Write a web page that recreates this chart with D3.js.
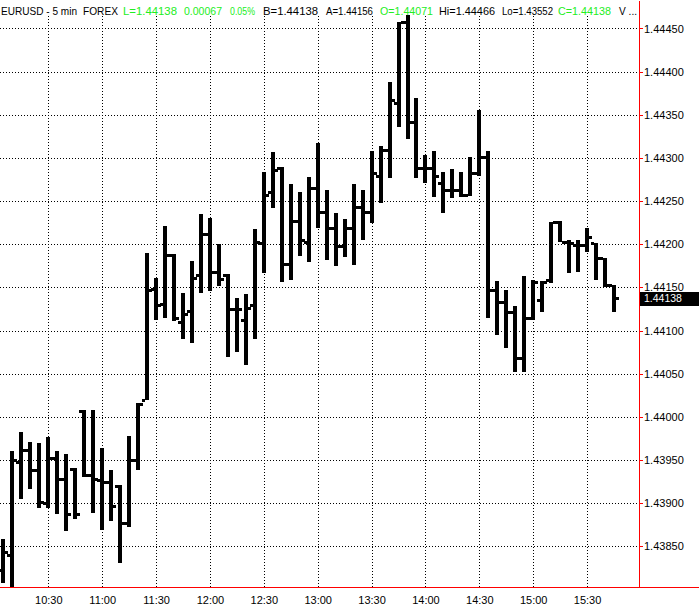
<!DOCTYPE html>
<html>
<head>
<meta charset="utf-8">
<script src="https://cdn.jsdelivr.net/npm/d3@7"></script>
<style>
  html, body { margin: 0; padding: 0; background: #fff; }
  svg { display: block; font-family: "Liberation Sans", Arial, sans-serif; }
</style>
</head>
<body>
<svg id="chart" width="699" height="607"></svg>
<script>
// ---- data ----
const times = ["10:05","10:10","10:15","10:20","10:25","10:30","10:35","10:40","10:45","10:50","10:55",
  "11:00","11:05","11:10","11:15","11:20","11:25","11:30","11:35","11:40","11:45","11:50","11:55",
  "12:00","12:05","12:10","12:15","12:20","12:25","12:30","12:35","12:40","12:45","12:50","12:55",
  "13:00","13:05","13:10","13:15","13:20","13:25","13:30","13:35","13:40","13:45","13:50","13:55",
  "14:00","14:05","14:10","14:15","14:20","14:25","14:30","14:35","14:40","14:45","14:50","14:55",
  "15:00","15:05","15:10","15:15","15:20","15:25","15:30","15:35","15:40","15:45"];
const opens = [1.43823,1.43840,1.43948,1.43962,1.43938,1.43900,1.43953,1.43928,1.43940,1.44007,1.43933,
  1.43927,1.43925,1.43920,1.43877,1.43950,1.44020,1.44148,1.44131,1.44188,1.44110,1.44123,1.44164,
  1.44212,1.44168,1.44165,1.44125,1.44112,1.44130,1.44202,1.44261,1.44288,1.44177,1.44227,1.44203,
  1.44265,1.44237,1.44219,1.44198,1.44219,1.44243,1.44237,1.44279,1.44309,1.44364,1.44457,1.44342,
  1.44288,1.44288,1.44271,1.44263,1.44263,1.44257,1.44283,1.44301,1.44147,1.44133,1.44122,1.44068,
  1.44115,1.44136,1.44159,1.44226,1.44203,1.44199,1.44199,1.44201,1.44184,1.44153];
const highs = [1.43859,1.43960,1.43983,1.43971,1.43970,1.43977,1.43961,1.43957,1.43941,1.44008,1.44008,
  1.43964,1.43939,1.43921,1.43978,1.44016,1.44190,1.44161,1.44221,1.44189,1.44144,1.44181,1.44235,
  1.44230,1.44200,1.44166,1.44138,1.44143,1.44218,1.44284,1.44307,1.44289,1.44270,1.44261,1.44278,
  1.44317,1.44263,1.44236,1.44229,1.44270,1.44263,1.44308,1.44314,1.44388,1.44458,1.44466,1.44370,
  1.44303,1.44308,1.44284,1.44287,1.44284,1.44301,1.44355,1.44308,1.44158,1.44147,1.44129,1.44163,
  1.44159,1.44158,1.44226,1.44227,1.44205,1.44205,1.44219,1.44202,1.44184,1.44153];
const lows = [1.43808,1.43788,1.43905,1.43916,1.43894,1.43895,1.43887,1.43868,1.43882,1.43931,1.43889,
  1.43869,1.43879,1.43831,1.43873,1.43939,1.44020,1.44112,1.44115,1.44111,1.44090,1.44086,1.44144,
  1.44146,1.44152,1.44070,1.44075,1.44060,1.44090,1.44167,1.44242,1.44156,1.44159,1.44186,1.44180,
  1.44219,1.44182,1.44175,1.44185,1.44176,1.44205,1.44225,1.44248,1.44277,1.44336,1.44322,1.44277,
  1.44271,1.44255,1.44236,1.44254,1.44255,1.44256,1.44279,1.44115,1.44095,1.44080,1.44052,1.44052,
  1.44112,1.44122,1.44155,1.44203,1.44167,1.44168,1.44191,1.44159,1.44151,1.44122];
const closes = [1.43843,1.43950,1.43962,1.43938,1.43901,1.43953,1.43928,1.43888,1.43888,1.43933,1.43928,
  1.43925,1.43897,1.43877,1.43950,1.44015,1.44147,1.44130,1.44188,1.44115,1.44119,1.44161,1.44212,
  1.44168,1.44160,1.44125,1.44125,1.44126,1.44203,1.44257,1.44286,1.44177,1.44227,1.44205,1.44265,
  1.44237,1.44219,1.44198,1.44219,1.44243,1.44237,1.44283,1.44309,1.44367,1.44457,1.44342,1.44288,
  1.44288,1.44279,1.44263,1.44263,1.44257,1.44283,1.44301,1.44147,1.44133,1.44122,1.44068,1.44115,
  1.44156,1.44156,1.44226,1.44203,1.44202,1.44199,1.44208,1.44184,1.44153,1.44138];
const priceTicks = [1.43850,1.43900,1.43950,1.44000,1.44050,1.44100,1.44150,1.44200,1.44250,1.44300,1.44350,1.44400,1.44450];
const timeTicks = ["10:30","11:00","11:30","12:00","12:30","13:00","13:30","14:00","14:30","15:00","15:30"];
const lastPrice = 1.44138;
const headerTexts = ["EURUSD - 5 min","FOREX","L=1.44138","0.00067","0.05%","B=1.44138","A=1.44156",
  "O=1.44071","Hi=1.44466","Lo=1.43552","C=1.44138","V ..."];
const headerGreen = [false,false,true,true,true,false,false,true,false,false,true,false];
// header layout (x start, width) in pixels
const headerX = [1, 83, 123, 184, 230, 263, 326, 380, 439, 502, 558, 619];
const headerW = [76, 35, 54, 38, 25, 55, 47, 53, 56, 51, 53, 18];

// ---- layout ----
const W = 699, H = 607;
const plotR = 639, plotB = 587;
const parse = d3.timeParse("%H:%M");
const bars = times.map((t, i) => ({t: parse(t), o: opens[i], h: highs[i], l: lows[i], c: closes[i]}));

const x = d3.scaleTime()
  .domain([new Date(1900,0,1,10,3,6), new Date(1900,0,1,15,58,54)])
  .range([0, plotR]);
const y = d3.scaleLinear().domain([1.43803, 1.44483]).range([plotB, 0]);

const svg = d3.select("#chart");
svg.append("rect").attr("width", W).attr("height", H).attr("fill", "#fff");

svg.append("defs").append("clipPath").attr("id", "clip")
  .append("rect").attr("x", 0).attr("y", 0).attr("width", plotR).attr("height", plotB);

// grid
const grid = svg.append("g").attr("shape-rendering", "crispEdges");
grid.selectAll("line.h").data(priceTicks).join("line").attr("class", "h")
  .attr("x1", 0).attr("x2", plotR)
  .attr("y1", d => Math.round(y(d)) + 0.5).attr("y2", d => Math.round(y(d)) + 0.5)
  .attr("stroke", "#000").attr("stroke-dasharray", "1,2");
grid.selectAll("line.v").data(timeTicks.map(parse)).join("line").attr("class", "v")
  .attr("x1", d => Math.round(x(d)) + 0.5).attr("x2", d => Math.round(x(d)) + 0.5)
  .attr("y1", 16).attr("y2", plotB)
  .attr("stroke", "#000").attr("stroke-dasharray", "1,2");

// header
svg.append("g").selectAll("text").data(headerTexts).join("text")
  .attr("x", (d, i) => headerX[i]).attr("y", 15)
  .attr("font-size", 11)
  .attr("textLength", (d, i) => headerW[i])
  .attr("lengthAdjust", "spacingAndGlyphs")
  .attr("fill", (d, i) => headerGreen[i] ? "#22ee22" : "#000")
  .text(d => d);

// OHLC bars
const g = svg.append("g").attr("clip-path", "url(#clip)").attr("shape-rendering", "crispEdges");
const bx = d => Math.round(x(d.t));
g.selectAll("rect.range").data(bars).join("rect").attr("class", "range")
  .attr("x", d => bx(d) - 2).attr("width", 4)
  .attr("y", d => Math.round(y(d.h))).attr("height", d => Math.max(2, Math.round(y(d.l)) - Math.round(y(d.h))))
  .attr("fill", "#000");
g.selectAll("rect.open").data(bars).join("rect").attr("class", "open")
  .attr("x", d => bx(d) - 5).attr("width", 3)
  .attr("y", d => Math.round(y(d.o)) - 1).attr("height", 3)
  .attr("fill", "#000");
g.selectAll("rect.close").data(bars).join("rect").attr("class", "close")
  .attr("x", d => bx(d) + 2).attr("width", 3)
  .attr("y", d => Math.round(y(d.c)) - 1).attr("height", 3)
  .attr("fill", "#000");

// right price axis
const yAxis = d3.axisRight(y).tickValues(priceTicks).tickFormat(d3.format(".5f"))
  .tickSize(4).tickSizeOuter(0).tickPadding(1);
const ya = svg.append("g").attr("transform", `translate(${plotR},0)`).call(yAxis);
ya.select(".domain").attr("stroke", "#ff0000").attr("shape-rendering", "crispEdges");
ya.selectAll(".tick line").attr("stroke", "#ff0000").attr("shape-rendering", "crispEdges");
ya.selectAll(".tick text").attr("fill", "#000").attr("font-size", 11)
  .attr("font-family", "'Liberation Sans', Arial, sans-serif");

// bottom time axis
const xAxis = d3.axisBottom(x).tickValues(timeTicks.map(parse)).tickFormat(d3.timeFormat("%H:%M"))
  .tickSize(0).tickPadding(9);
const xa = svg.append("g").attr("transform", `translate(0,${plotB})`).call(xAxis);
xa.select(".domain").remove();
xa.selectAll(".tick text").attr("fill", "#000").attr("font-size", 11)
  .attr("font-family", "'Liberation Sans', Arial, sans-serif");

svg.append("line").attr("x1", 0).attr("x2", W).attr("y1", plotB + 0.5).attr("y2", plotB + 0.5)
  .attr("stroke", "#ff0000").attr("shape-rendering", "crispEdges");

// last price marker
const ly = y(lastPrice);
svg.append("rect").attr("x", plotR + 1).attr("y", Math.round(ly) - 6).attr("width", W - plotR - 1).attr("height", 14)
  .attr("fill", "#000");
svg.append("text").attr("x", plotR + 5).attr("y", ly + 1).attr("dy", "0.35em")
  .attr("font-size", 10.5).attr("fill", "#fff").text(d3.format(".5f")(lastPrice));
</script>
</body>
</html>
